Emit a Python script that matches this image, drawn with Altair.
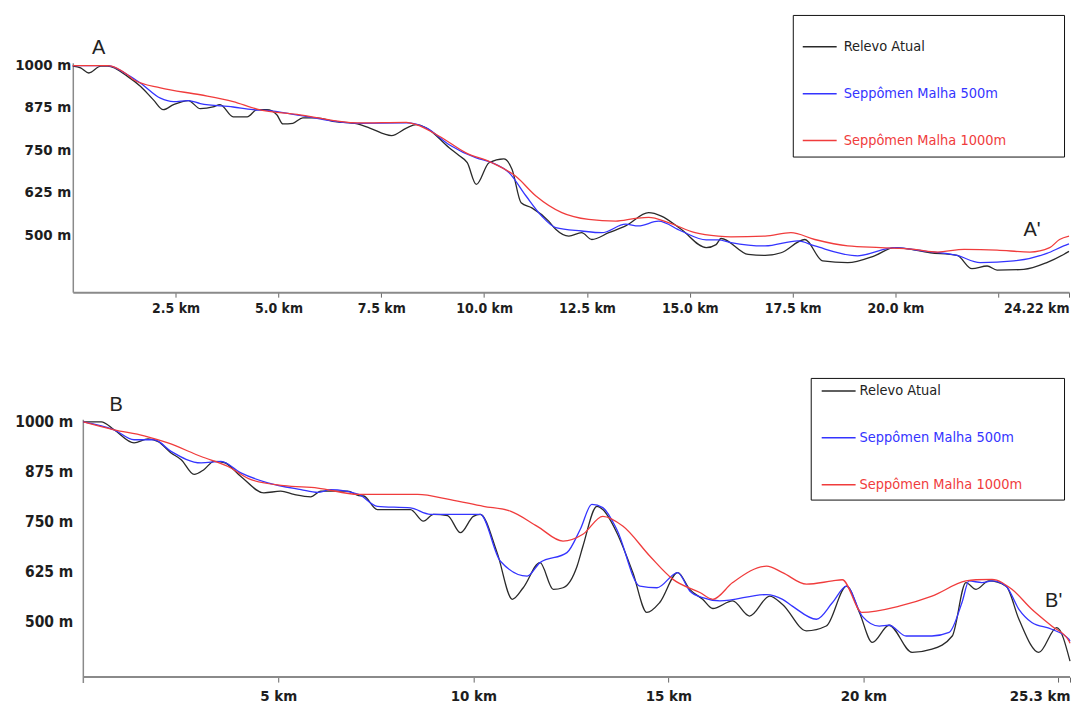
import altair as alt
import pandas as pd

SERIES = ["Relevo Atual", "Seppômen Malha 500m", "Seppômen Malha 1000m"]
COLORS = ["#2a2a2a", "#3434ff", "#f03c3c"]

# ---------------- Profile A - A' ----------------
A_relevo_km = [0, 0.19, 0.39, 0.68, 0.85, 1.33, 1.65, 1.96, 2.20, 2.45, 2.81, 3.10, 3.41, 3.58, 3.90,
               4.24, 4.48, 4.72, 4.96, 5.11, 5.35, 5.59, 5.93, 6.32, 6.92, 7.22, 7.75, 8.11, 8.35, 8.60,
               9.15, 9.39, 9.59, 9.81, 10.12, 10.48, 10.68, 10.90, 11.16, 11.57, 11.74, 12.06, 12.37,
               12.62, 13.03, 13.44, 14.00, 14.31, 14.79, 15.40, 15.64, 15.76, 16.42, 16.83, 17.22,
               17.80, 18.23, 18.84, 19.49, 19.98, 20.85, 21.50, 21.86, 22.23, 22.47, 23.12, 23.68,
               24.09, 24.22]
A_relevo_m = [995, 990, 975, 995, 995, 965, 935, 896, 867, 882, 894, 870, 875, 882, 846,
              846, 867, 867, 852, 825, 827, 843, 843, 833, 825, 813, 791, 813, 823, 813,
              755, 732, 711, 647, 711, 722, 691, 593, 578, 539, 515, 495, 505,
              485, 505, 525, 564, 554, 515, 461, 470, 488, 441, 438, 446,
              485, 422, 417, 437, 461, 446, 438, 399, 407, 395, 397, 417,
              441, 450]

A_500_km = [0, 0.85, 1.33, 1.65, 2.13, 2.45, 2.81, 3.10, 3.90, 4.38, 4.72, 5.52, 6.92, 8.11, 8.60,
            9.15, 9.81, 10.19, 10.61, 11.02, 11.40, 11.74, 12.37, 12.86, 13.44, 13.75, 14.24,
            14.79, 15.40, 15.69, 16.00, 16.83, 17.63, 18.04, 19.08, 19.98, 20.70, 21.50, 22.06,
            22.88, 23.68, 24.09, 24.22]
A_500_m = [997, 997, 970, 945, 901, 891, 894, 885, 875, 867, 865, 850, 827, 828, 813,
           764, 725, 711, 681, 613, 554, 520, 510, 505, 530, 525, 539,
           510, 484, 484, 476, 466, 481, 466, 437, 461, 451, 438, 417,
           422, 444, 466, 472]

A_1000_km = [0, 0.85, 1.33, 1.48, 2.13, 3.10, 3.90, 4.48, 5.52, 6.92, 8.11, 8.35, 8.91, 9.56,
             10.19, 10.77, 11.26, 11.89, 12.54, 13.20, 13.68, 14.00, 14.48, 15.13, 15.69, 16.00,
             16.83, 17.46, 18.04, 18.84, 19.64, 20.46, 21.02, 21.67, 22.47, 23.27, 23.75, 23.99,
             24.22]
A_1000_m = [997, 997, 970, 955, 931, 911, 891, 869, 852, 828, 830, 823, 789, 740,
            711, 671, 613, 564, 544, 539, 547, 550, 535, 505, 495, 493,
            495, 505, 485, 466, 461, 456, 448, 456, 454, 448, 461, 485,
            495]

# ---------------- Profile B - B' ----------------
B_relevo_km = [0, 0.46, 0.79, 1.30, 1.66, 1.92, 2.25, 2.51, 2.84, 3.09, 3.35, 3.61, 4.04, 4.63,
               5.06, 5.40, 5.83, 6.09, 6.78, 7.06, 7.19, 7.54, 8.39, 8.72, 8.98, 9.34, 9.67, 10.00,
               10.18, 10.61, 11.00, 11.28, 11.71, 12.05, 12.30, 12.66, 12.81, 13.17, 13.32, 13.68,
               14.09, 14.45, 14.78, 15.24, 15.55, 15.88, 16.14, 16.65, 17.08, 17.60, 17.93, 18.54,
               19.05, 19.57, 19.90, 20.23, 20.66, 21.25, 21.76, 22.28, 22.63, 22.89, 23.22, 23.66,
               23.99, 24.50, 24.96, 25.30]
B_relevo_m = [1000, 1000, 980, 947, 957, 950, 922, 905, 868, 880, 901, 898, 863, 822,
              826, 818, 812, 826, 826, 815, 814, 780, 780, 751, 768, 765, 722, 763,
              768, 672, 555, 584, 647, 580, 584, 638, 688, 788, 780, 722,
              622, 522, 547, 622, 580, 555, 532, 551, 513, 563, 542, 476,
              488, 588, 522, 447, 490, 422, 430, 463, 597, 580, 601, 588,
              505, 422, 484, 400]

B_500_km = [0, 0.79, 1.30, 1.82, 2.25, 3.02, 3.53, 4.04, 4.73, 5.58, 6.01, 6.34, 7.06, 7.54, 8.39,
            8.90, 10.18, 10.69, 11.38, 11.71, 12.40, 12.74, 13.04, 13.32, 13.68, 14.27, 14.71,
            15.24, 15.55, 15.88, 16.32, 17.52, 17.93, 18.18, 18.80, 19.21, 19.57, 19.97, 20.41,
            20.66, 21.10, 21.76, 22.20, 22.53, 22.71, 23.04, 23.30, 23.66, 23.99, 24.32, 24.83,
            25.27, 25.30]
B_500_m = [1000, 980, 955, 955, 926, 897, 901, 872, 847, 830, 823, 830, 818, 788, 784,
           768, 768, 651, 613, 647, 672, 730, 793, 785, 730, 588, 584,
           622, 576, 559, 551, 567, 555, 538, 505, 547, 588, 513, 488,
           490, 463, 463, 472, 547, 601, 597, 601, 588, 530, 497, 480,
           455, 450]

B_1000_km = [0, 0.79, 1.56, 2.17, 3.02, 3.71, 4.30, 5.14, 6.01, 7.06, 8.57, 9.41, 10.26, 10.95,
             11.64, 12.30, 12.81, 13.32, 13.84, 14.53, 15.12, 15.81, 16.14, 16.65, 17.52, 17.93,
             18.54, 19.21, 19.46, 19.97, 20.92, 21.76, 22.63, 22.89, 23.30, 23.81, 24.32, 24.83,
             25.27, 25.30]
B_1000_m = [1000, 980, 965, 947, 913, 888, 855, 840, 834, 818, 818, 805, 788, 776,
            738, 701, 718, 763, 738, 663, 605, 572, 555, 597, 638, 622,
            593, 601, 604, 522, 538, 563, 601, 604, 605, 580, 530, 488,
            451, 445]

# point labels
A_marks = ["A", "A'"]
A_marks_km = [0.63, 23.32]
A_marks_m = [1049, 512]
B_marks = ["B", "B'"]
B_marks_km = [0.84, 24.88]
B_marks_m = [1042, 550]

A_xticks = [2.5, 5.0, 7.5, 10.0, 12.5, 15.0, 17.5, 20.0, 22.5, 24.22]
B_xticks = [5, 10, 15, 20, 25, 25.3]
Y_ticks = [500, 625, 750, 875, 1000]


def long_df(parts):
    rows = []
    for name, kms, ms in parts:
        for i, (k, m) in enumerate(zip(kms, ms)):
            rows.append({"km": k, "elev": m, "serie": name, "order": i})
    return pd.DataFrame(rows)


dfA = long_df([(SERIES[0], A_relevo_km, A_relevo_m),
               (SERIES[1], A_500_km, A_500_m),
               (SERIES[2], A_1000_km, A_1000_m)])
dfB = long_df([(SERIES[0], B_relevo_km, B_relevo_m),
               (SERIES[1], B_500_km, B_500_m),
               (SERIES[2], B_1000_km, B_1000_m)])

FONT = "DejaVu Sans Condensed"
color_expr = ("datum.value == 'Relevo Atual' ? '#222222' : "
              "(datum.value == 'Seppômen Malha 500m' ? '#3434ff' : '#f03c3c')")


def legend(lx, ly, pad, sym_off, lab_off, npad, title_orient, title_size):
    fill = "\u2800" * npad
    return alt.Legend(
        orient="none", legendX=lx, legendY=ly, title=" ", titleOrient=title_orient,
        titleFontSize=title_size, titlePadding=2,
        strokeColor="#111111", padding=pad, fillColor="white",
        symbolType="M-2,0H2", symbolSize=289, symbolStrokeWidth=1.5, symbolOffset=sym_off,
        rowPadding=31, labelOffset=lab_off, labelFont=FONT, labelFontSize=14.5,
        labelColor={"expr": color_expr}, labelExpr=f"datum.label + '{fill}'",
        labelLimit=400,
    )


color_scale = alt.Scale(domain=SERIES, range=COLORS)

# ---------- panel A ----------
xA = alt.X("km:Q", scale=alt.Scale(domain=[0, 24.22], nice=False, zero=False),
           axis=alt.Axis(title=None, values=A_xticks, grid=False, domainColor="#8a8a8a",
                         domainWidth=2, tickColor="#666666", tickSize=5, labelPadding=4,
                         labelFontSize=14, labelFlush=True, labelOverlap=False,
                         labelExpr="datum.value == 22.5 ? '' : (datum.value == 24.22 ? '24.22 km' : format(datum.value, '.1f') + ' km')"))
yA = alt.Y("elev:Q", scale=alt.Scale(domain=[330, 1005], nice=False, zero=False),
           axis=alt.Axis(title=None, values=Y_ticks, grid=False, ticks=False, domainColor="#8a8a8a",
                         domainWidth=1.5, labelPadding=2, labelFontSize=15,
                         labelExpr="datum.value + ' m'"))

linesA = alt.Chart(dfA).mark_line(interpolate="monotone", strokeWidth=1.3).encode(
    x=xA, y=yA,
    color=alt.Color("serie:N", scale=color_scale, sort=SERIES,
                    legend=legend(722, -48, 9.5, 8, 14.5, 5, "top", 11)),
    order="order:Q",
)
txtA = alt.Chart(pd.DataFrame({"t": A_marks, "km": A_marks_km, "elev": A_marks_m})).mark_text(
    font="Liberation Sans", fontSize=20, color="#222222"
).encode(x="km:Q", y="elev:Q", text="t:N")

panelA = alt.layer(linesA, txtA).properties(width=999, height=230)

# ---------- panel B ----------
xB = alt.X("km:Q", scale=alt.Scale(domain=[-0.27, 25.3], nice=False, zero=False),
           axis=alt.Axis(title=None, values=B_xticks, grid=False, domain=False,
                         tickColor="#666666", tickSize=5, labelPadding=6,
                         labelFontSize=15, labelFlush=True, labelOverlap=False,
                         labelExpr="datum.value == 25 ? '' : (datum.value == 25.3 ? '25.3 km' : datum.value + ' km')"))
yB = alt.Y("elev:Q", scale=alt.Scale(domain=[360, 1005], nice=False, zero=False),
           axis=alt.Axis(title=None, values=Y_ticks, grid=False, ticks=False, domain=False,
                         labelPadding=0, labelFontSize=15.5,
                         labelExpr="datum.value + ' m'"))

linesB = alt.Chart(dfB).mark_line(interpolate="monotone", strokeWidth=1.3).encode(
    x=xB, y=yB,
    color=alt.Color("serie:N", scale=color_scale, sort=SERIES,
                    legend=legend(740, -42, 3.5, 15, 11.5, 4, "bottom", 3)),
    order="order:Q",
)
txtB = alt.Chart(pd.DataFrame({"t": B_marks, "km": B_marks_km, "elev": B_marks_m})).mark_text(
    font="Liberation Sans", fontSize=20, color="#222222"
).encode(x="km:Q", y="elev:Q", text="t:N")

axis_df = pd.DataFrame({"k": [0]})
vrule = alt.Chart(axis_df).mark_rule(color="#8a8a8a", strokeWidth=1.5).encode(
    x=alt.datum(0), y=alt.datum(345), y2=alt.datum(1005))
hrule = alt.Chart(axis_df).mark_rule(color="#8a8a8a", strokeWidth=2).encode(
    x=alt.datum(0), x2=alt.datum(25.3), y=alt.datum(360))

panelB = alt.layer(vrule, hrule, linesB, txtB).properties(width=1000, height=258)

chart = alt.vconcat(panelA, panelB, spacing=62).resolve_legend(color="independent").properties(
    padding={"left": 14, "top": 13, "right": 0, "bottom": 3},
    background="white",
).configure_view(stroke=None).configure_axis(
    labelFont=FONT, labelFontWeight="bold", labelColor="#1e1e1e"
)

chart.save("out.html", embed_options={"renderer": "svg", "actions": False})
